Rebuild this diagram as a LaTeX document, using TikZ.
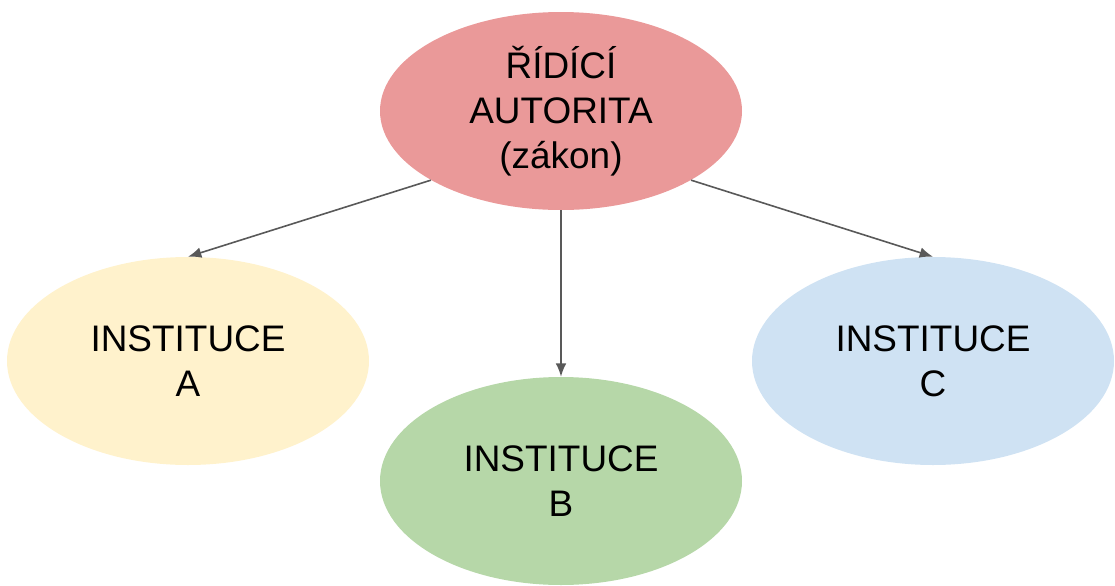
\documentclass[tikz,border=0pt]{standalone}
\usepackage{fontspec}
\setmainfont{Liberation Sans}
\usetikzlibrary{shapes.geometric,arrows.meta}
\definecolor{cRed}{HTML}{EA9999}
\definecolor{cYellow}{HTML}{FFF2CC}
\definecolor{cGreen}{HTML}{B6D7A8}
\definecolor{cBlue}{HTML}{CFE2F3}
\definecolor{cArrow}{HTML}{595959}
\tikzset{
  blob/.style={ellipse, inner sep=0pt, minimum width=271.5pt, minimum height=156pt,
    align=center, font=\fontsize{27.7}{33.75}\selectfont},
  conn/.style={draw=cArrow, line width=1.2pt, -{Latex[length=10pt,width=8pt]}}
}
\begin{document}
\begin{tikzpicture}[x=0.75pt,y=-0.75pt]
\useasboundingbox (0,0) rectangle (1115,586);
\node[blob, fill=cRed, minimum height=148.5pt] (top) at (561,111) {ŘÍDÍCÍ\\AUTORITA\\(zákon)};
\node[blob, fill=cYellow] (A) at (188,361) {INSTITUCE\\A};
\node[blob, fill=cGreen] (B) at (561,481) {INSTITUCE\\B};
\node[blob, fill=cBlue] (C) at (933,361) {INSTITUCE\\C};
\draw[conn] (top.208) -- (A.north);
\draw[conn] (top.south) -- (B.north);
\draw[conn] (top.332) -- (C.north);
\end{tikzpicture}
\end{document}
